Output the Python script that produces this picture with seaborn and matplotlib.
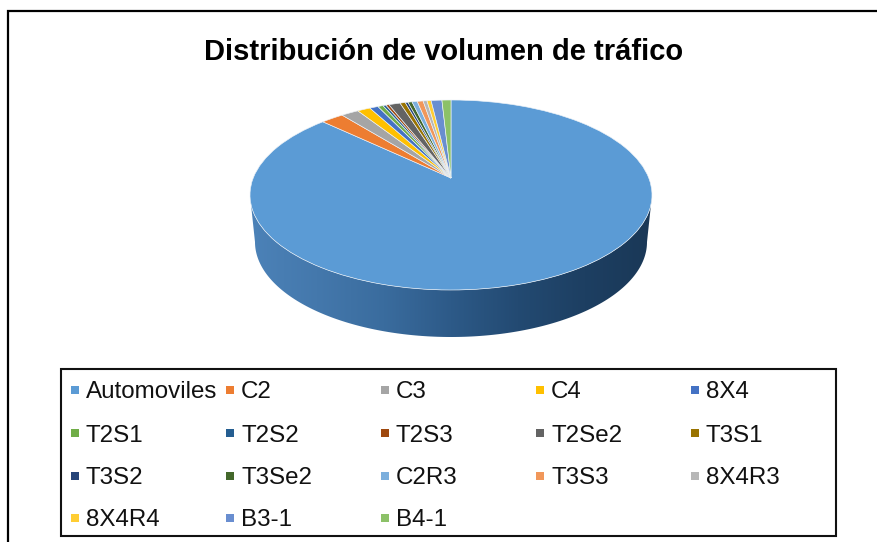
import numpy as np
import matplotlib
matplotlib.use('Agg')
import matplotlib.pyplot as plt
import seaborn as sns
from matplotlib.colors import LinearSegmentedColormap
from matplotlib.patches import Polygon, Rectangle
from matplotlib.transforms import Transform

sns.set_theme(style='white')
plt.rcParams['font.family'] = ['Liberation Sans', 'DejaVu Sans']

TITLE = 'Distribución de volumen de tráfico'
CATEGORIES = ['Automoviles', 'C2', 'C3', 'C4', '8X4',
              'T2S1', 'T2S2', 'T2S3', 'T2Se2', 'T3S1',
              'T3S2', 'T3Se2', 'C2R3', 'T3S3', '8X4R3',
              '8X4R4', 'B3-1', 'B4-1']
VALUES = [89.0, 1.89, 1.44, 1.06, 0.69,
          0.42, 0.25, 0.25, 0.92, 0.42,
          0.22, 0.33, 0.42, 0.47, 0.31,
          0.33, 0.86, 0.72]
COLORS = ['#5B9BD5', '#ED7D31', '#A5A5A5', '#FFC000', '#4472C4',
          '#70AD47', '#255E91', '#9E480E', '#636363', '#997300',
          '#264478', '#43682B', '#7CAFDD', '#F1975A', '#B7B7B7',
          '#FFCD33', '#698ED0', '#8CC168']
WALL_COLORS = ['#4c82b8', '#4478ac', '#3a6c9e', '#2d5a88', '#234a72', '#1d3f62', '#1a3857']

# Pie geometry in pixels
CX, CY = 451, 195
RX, RY = 201, 95
APEX_SHIFT = 17
WALL_CY, WALL_RX = 242, 196


class TiltTransform(Transform):
    # unit pie -> tilted ellipse in pixels, apex sits above the ellipse centre
    input_dims = 2
    output_dims = 2

    def transform_non_affine(self, xy):
        xy = np.asarray(xy, dtype=float)
        r = np.minimum(np.hypot(xy[:, 0], xy[:, 1]), 1)
        return np.column_stack([CX + RX * xy[:, 0],
                                CY - RY * xy[:, 1] - APEX_SHIFT * (1 - r)])


fig = plt.figure(figsize=(8.77, 5.42), dpi=100)
ax = fig.add_axes([0, 0, 1, 1])

wedges, _ = ax.pie(VALUES, colors=sns.color_palette(COLORS), startangle=90, counterclock=False,
                   wedgeprops=dict(edgecolor='#eef3f8', linewidth=0.45))
tilt = TiltTransform() + ax.transData
for w in wedges:
    w.set_transform(tilt)
    w.set_zorder(3)

ax.set_aspect('auto')
ax.set_xlim(0, 877)
ax.set_ylim(542, 0)

# Side wall of the disc
t = np.linspace(np.pi, 2 * np.pi, 200)
top_edge = np.column_stack([CX + RX * np.cos(t), CY - RY * np.sin(t)])
low_edge = np.column_stack([CX + WALL_RX * np.cos(t), WALL_CY - RY * np.sin(t)])
wall = Polygon(np.vstack([top_edge, low_edge[::-1]]), closed=True, facecolor='none',
               edgecolor='none', transform=ax.transData)
ax.add_patch(wall)
cmap = LinearSegmentedColormap.from_list('wall', WALL_COLORS)
img = ax.imshow(np.linspace(0, 1, 256).reshape(1, -1), cmap=cmap, aspect='auto',
                extent=(CX - RX, CX + RX, 345, 190), zorder=2)
img.set_clip_path(wall)
ax.set_aspect('auto')
ax.set_xlim(0, 877)
ax.set_ylim(542, 0)

# Outer frame, only top and left are visible
ax.plot([7.5, 7.5, 877], [542, 11, 11], color='black', lw=1.6, solid_joinstyle='miter', zorder=4)

ax.text(443.5, 52, TITLE, fontsize=21, fontweight='bold', color='black',
        ha='center', va='center')

# Legend
ax.add_patch(Rectangle((61, 369), 775, 167, facecolor='white', edgecolor='#111111',
                       linewidth=1.5, zorder=4))
col_x = [75, 230, 385, 540, 695]
row_y = [390, 433, 476, 518]
for i, (name, color) in enumerate(zip(CATEGORIES, COLORS)):
    x, y = col_x[i % 5], row_y[i // 5]
    ax.scatter([x], [y], marker='s', s=27, color=color, linewidths=0, zorder=5)
    ax.text(x + 11, y, name, fontsize=17.4, color='#111111', ha='left', va='center_baseline', zorder=5)

plt.savefig('out.png', dpi=100)
plt.close()
